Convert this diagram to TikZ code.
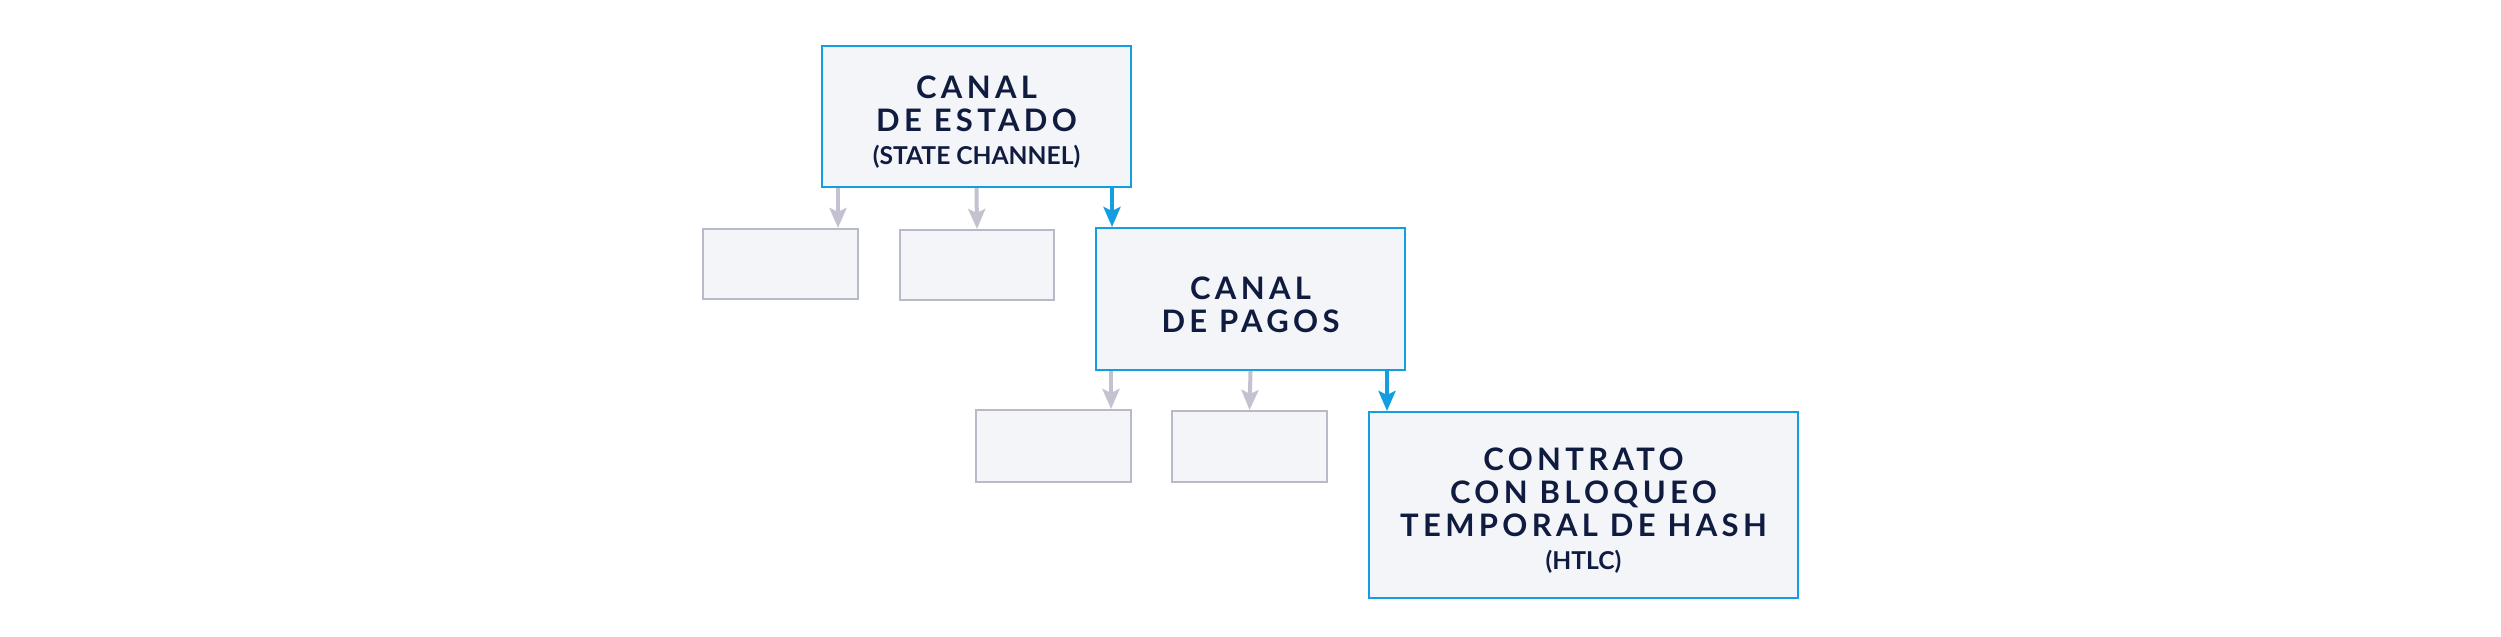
\documentclass[tikz,border=0pt]{standalone}
\usepackage{fontspec}
\setmainfont{Lato}
\newfontfamily\headfont{Lato}[LetterSpace=14]
\usetikzlibrary{arrows.meta,calc}
\definecolor{chanblue}{RGB}{20,158,226}
\definecolor{boxgray}{RGB}{186,185,200}
\definecolor{arrgray}{RGB}{195,194,208}
\definecolor{boxfill}{RGB}{244,245,249}
\definecolor{navy}{RGB}{16,27,64}
\newcommand\subline[1]{{\normalfont\bfseries\fontsize{12.3}{16.5}\selectfont #1}}
\newcommand\topstrut{\rule{0pt}{17pt}}
\begin{document}
\begin{tikzpicture}[x=0.5pt,y=-0.5pt,
  box/.style={draw=boxgray,fill=boxfill,line width=1pt,inner sep=0pt},
  keybox/.style={box,draw=chanblue,text=navy,align=center,font=\headfont\bfseries\fontsize{15.5}{16.5}\selectfont},
  grayarr/.style={draw=arrgray,line width=2pt,-{Stealth[length=10pt,width=8.5pt,inset=2pt]}},
  bluearr/.style={grayarr,draw=chanblue}]
\useasboundingbox (0,0) rectangle (2501,637);

%Shape: Rectangle [state channel]
\node [keybox,minimum width=154.5pt,minimum height=70.5pt] (estado) at (976.5,116.5) {\topstrut CANAL\\DE ESTADO\\\subline{(STATE CHANNEL)}};
%Shape: Rectangle [empty]
\node [box,minimum width=77.5pt,minimum height=35pt] (vacio1) at (780.5,264) {};
%Shape: Rectangle [empty]
\node [box,minimum width=77pt,minimum height=35pt] (vacio2) at (977,265) {};
%Shape: Rectangle [payment channel]
\node [keybox,minimum width=154.5pt,minimum height=71pt] (pagos) at (1250.5,299) {\topstrut CANAL\\DE PAGOS};
%Shape: Rectangle [empty]
\node [box,minimum width=77.5pt,minimum height=36pt] (vacio3) at (1053.5,446) {};
%Shape: Rectangle [empty]
\node [box,minimum width=77.5pt,minimum height=35.5pt] (vacio4) at (1249.5,446.5) {};
%Shape: Rectangle [htlc]
\node [keybox,minimum width=214.5pt,minimum height=93pt] (htlc) at (1583.5,505) {\topstrut CONTRATO\\CON BLOQUEO\\TEMPORAL DE HASH\\\subline{(HTLC)}};

%Straight Lines
\coordinate (e1) at ($(estado.south west)+(17,0)$);
\coordinate (e3) at ($(pagos.north west)+(17,0)$);
\draw [grayarr] (e1) -- (e1 |- vacio1.north);
\draw [grayarr] (estado.south) -- (vacio2.north);
\draw [bluearr] (e3 |- estado.south) -- (e3);
%Straight Lines
\coordinate (p1) at ($(pagos.south west)+(16,0)$);
\coordinate (p3) at ($(htlc.north west)+(19,0)$);
\draw [grayarr] (p1) -- (p1 |- vacio3.north);
\draw [grayarr] (pagos.south) -- (vacio4.north);
\draw [bluearr] (p3 |- pagos.south) -- (p3);

\end{tikzpicture}
\end{document}
